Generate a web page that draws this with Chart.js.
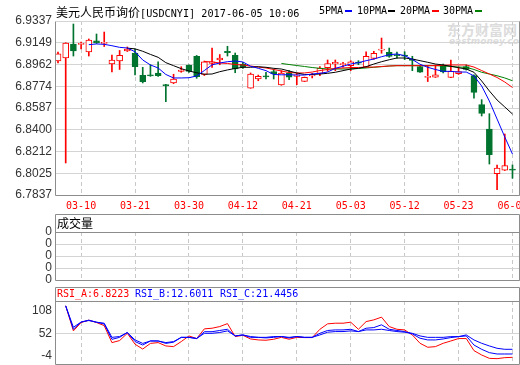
<!DOCTYPE html>
<html>
<head>
<meta charset="utf-8">
<script src="https://cdn.jsdelivr.net/npm/chart.js"></script>
<style>
html, body { margin: 0; padding: 0; background: #fff; }
#wrap { position: relative; width: 520px; height: 365px; overflow: hidden; }
canvas { position: absolute; left: 0; }
.t { position: absolute; white-space: nowrap; line-height: 1; }
.cjk { font-family: "Noto Sans CJK SC", sans-serif; font-size: 12px; color: #000; }
.mono { font-family: "DejaVu Sans Mono", monospace; font-size: 10px; }
.dash { position: absolute; width: 7px; height: 2px; }
</style>
</head>
<body>
<div id="wrap">
  <div class="t" style="left:447px;top:22px;font-family:'Noto Sans CJK SC';font-weight:bold;font-size:14px;color:#dcdcdc;">东方财富网</div>
  <div class="t" style="left:449px;top:37px;font-family:'DejaVu Sans';font-weight:bold;font-style:italic;font-size:9px;color:#dcdcdc;">eastmoney.com</div>

  <canvas id="main" width="540" height="215" style="top:0"></canvas>
  <canvas id="vol" width="540" height="82" style="top:210px"></canvas>
  <canvas id="rsi" width="540" height="96" style="top:284px"></canvas>

  <div class="t" style="left:56px;top:4px;"><span class="cjk">美元人民币询价</span><span class="mono" style="font-size:10.2px">[USDCNYI] 2017-06-05 10:06</span></div>
  <div class="t mono" style="left:319px;top:6px;">5PMA</div><div class="dash" style="left:345px;top:10px;background:#0000ff"></div>
  <div class="t mono" style="left:357px;top:6px;">10PMA</div><div class="dash" style="left:388px;top:10px;background:#000"></div>
  <div class="t mono" style="left:400px;top:6px;">20PMA</div><div class="dash" style="left:432px;top:10px;background:#ff0000"></div>
  <div class="t mono" style="left:443px;top:6px;">30PMA</div><div class="dash" style="left:475px;top:10px;background:#008000"></div>

  <div class="t cjk" style="left:57px;top:217px;">成交量</div>

  <div class="t mono" style="left:57px;top:289px;color:#ff0000">RSI_A:6.8223</div>
  <div class="t mono" style="left:135px;top:289px;color:#0000ff">RSI_B:12.6011</div>
  <div class="t mono" style="left:220px;top:289px;color:#0000ff">RSI_C:21.4456</div>
</div>

<script>
const dates = ['03-07','03-08','03-09','03-10','03-13','03-14','03-15','03-16','03-17','03-20',
  '03-21','03-22','03-23','03-24','03-27','03-28','03-29','03-30','03-31','04-05',
  '04-06','04-07','04-10','04-11','04-12','04-13','04-14','04-17','04-18','04-19',
  '04-20','04-21','04-24','04-25','04-26','04-27','04-28','05-02','05-03','05-04',
  '05-05','05-08','05-09','05-10','05-11','05-12','05-15','05-16','05-17','05-18',
  '05-19','05-22','05-23','05-24','05-25','05-26','05-31','06-01','06-02','06-05'];
const tickIdx = [3, 10, 17, 24, 31, 38, 45, 52, 59];

const open = [6.8992, 6.9018, 6.9139, 6.9135, 6.9070, 6.9165, 6.9143, 6.8966, 6.8992, 6.9078,
  6.9061, 6.8869, 6.8873, 6.8889, 6.8788, 6.8803, 6.8903, 6.8958, 6.9033, 6.8876,
  6.8971, 6.9001, 6.9075, 6.9041, 6.8966, 6.8759, 6.8837, 6.8864, 6.8900, 6.8785,
  6.8891, 6.8860, 6.8817, 6.8864, 6.8886, 6.8934, 6.8968, 6.8960, 6.8952, 6.8983,
  6.8938, 6.9015, 6.9085, 6.9066, 6.9048, 6.9043, 6.9008, 6.8945, 6.8850, 6.8852,
  6.8958, 6.8850, 6.8883, 6.8945, 6.8866, 6.8616, 6.8406, 6.8021, 6.8050, 6.8061];
const high = [6.9070, 6.9150, 6.9311, 6.9155, 6.9182, 6.9225, 6.9242, 6.9044, 6.9083, 6.9113,
  6.9096, 6.8938, 6.8960, 6.8986, 6.8791, 6.8878, 6.8943, 6.8960, 6.9040, 6.8992,
  6.9104, 6.9048, 6.9119, 6.9061, 6.8981, 6.8889, 6.8871, 6.8895, 6.8923, 6.8909,
  6.8909, 6.8886, 6.8854, 6.8886, 6.8943, 6.9001, 6.9001, 6.8981, 6.8995, 6.8995,
  6.9072, 6.9076, 6.9190, 6.9104, 6.9070, 6.9072, 6.9033, 6.8948, 6.8949, 6.8958,
  6.8966, 6.9001, 6.8941, 6.8958, 6.8874, 6.8659, 6.8538, 6.8096, 6.8363, 6.8096];
const low = [6.8975, 6.8113, 6.9035, 6.9096, 6.9035, 6.9143, 6.9117, 6.8897, 6.8919, 6.9074,
  6.8872, 6.8803, 6.8860, 6.8860, 6.8641, 6.8797, 6.8895, 6.8893, 6.8843, 6.8867,
  6.8936, 6.8960, 6.9035, 6.8891, 6.8929, 6.8757, 6.8822, 6.8837, 6.8837, 6.8783,
  6.8831, 6.8788, 6.8815, 6.8846, 6.8866, 6.8903, 6.8909, 6.8938, 6.8909, 6.8960,
  6.8936, 6.9007, 6.9059, 6.9024, 6.9016, 6.9004, 6.8909, 6.8893, 6.8815, 6.8850,
  6.8889, 6.8848, 6.8876, 6.8914, 6.8671, 6.8518, 6.8104, 6.7883, 6.8048, 6.7981];
const close = [6.9053, 6.9147, 6.9078, 6.9145, 6.9173, 6.9147, 6.9153, 6.9001, 6.9040, 6.9096,
  6.8943, 6.8814, 6.8863, 6.8866, 6.8778, 6.8837, 6.8913, 6.8902, 6.8857, 6.8984,
  6.8986, 6.9018, 6.9065, 6.8923, 6.8938, 6.8880, 6.8860, 6.8854, 6.8880, 6.8889,
  6.8852, 6.8872, 6.8852, 6.8874, 6.8932, 6.8969, 6.8980, 6.8971, 6.8986, 6.8973,
  6.9033, 6.9059, 6.9095, 6.9031, 6.9038, 6.9033, 6.8998, 6.8895, 6.8860, 6.8873,
  6.8897, 6.8903, 6.8902, 6.8919, 6.8722, 6.8540, 6.8184, 6.8070, 6.8090, 6.8051];

// moving averages
const ma5 = [null, null, null, null, 6.9133, 6.9139, 6.9136, 6.9124, 6.9110, 6.9104,
  6.9072, 6.9001, 6.8958, 6.8932, 6.8876, 6.8846, 6.8846, 6.8848, 6.8863, 6.8910,
  6.8959, 6.8975, 6.8986, 6.8992, 6.8984, 6.8947, 6.8929, 6.8909, 6.8876, 6.8873,
  6.8874, 6.8871, 6.8871, 6.8880, 6.8886, 6.8897, 6.8929, 6.8947, 6.8966, 6.8978,
  6.8995, 6.9009, 6.9029, 6.9046, 6.9053, 6.9038, 6.9005, 6.8964, 6.8938, 6.8919,
  6.8903, 6.8903, 6.8897, 6.8897, 6.8864, 6.8777, 6.8647, 6.8492, 6.8337, 6.8190];
const ma10 = [null, null, null, null, null, null, null, null, null, 6.9103,
  6.9097, 6.9076, 6.9049, 6.9024, 6.8978, 6.8952, 6.8926, 6.8906, 6.8891, 6.8878,
  6.8880, 6.8900, 6.8915, 6.8928, 6.8938, 6.8938, 6.8943, 6.8938, 6.8929, 6.8923,
  6.8906, 6.8889, 6.8876, 6.8876, 6.8880, 6.8886, 6.8895, 6.8909, 6.8923, 6.8929,
  6.8943, 6.8966, 6.8986, 6.9003, 6.9018, 6.9018, 6.9009, 6.8995, 6.8981, 6.8966,
  6.8958, 6.8947, 6.8934, 6.8923, 6.8895, 6.8820, 6.8734, 6.8656, 6.8596, 6.8535];
const ma20 = [null, null, null, null, null, null, null, null, null, null,
  null, null, null, null, null, null, null, null, null, 6.8988,
  6.8984, 6.8975, 6.8971, 6.8962, 6.8958, 6.8949, 6.8940, 6.8932, 6.8919, 6.8906,
  6.8893, 6.8889, 6.8889, 6.8897, 6.8910, 6.8919, 6.8928, 6.8932, 6.8936, 6.8936,
  6.8940, 6.8940, 6.8945, 6.8949, 6.8952, 6.8952, 6.8952, 6.8952, 6.8952, 6.8953,
  6.8955, 6.8958, 6.8958, 6.8958, 6.8940, 6.8910, 6.8880, 6.8850, 6.8811, 6.8764];
const ma30 = [null, null, null, null, null, null, null, null, null, null,
  null, null, null, null, null, null, null, null, null, null,
  null, null, null, null, null, null, null, null, null, 6.8971,
  6.8962, 6.8953, 6.8945, 6.8936, 6.8929, 6.8923, 6.8923, 6.8923, 6.8923, 6.8928,
  6.8932, 6.8938, 6.8943, 6.8949, 6.8952, 6.8952, 6.8952, 6.8952, 6.8952, 6.8952,
  6.8949, 6.8945, 6.8940, 6.8938, 6.8919, 6.8895, 6.8880, 6.8865, 6.8846, 6.8822];

const rsiA = [null, 120, 58, 78.7, 84.5, 78.7, 71, 29, 34, 52,
  25, 13, 27, 29, 20.7, 19, 31.5, 45.5, 39, 63,
  64.6, 68.7, 76, 44, 47, 38, 35.6, 34.8, 37.3, 42,
  37.3, 42, 41.4, 41.4, 62, 75.4, 77, 77, 79.5, 62,
  81, 85.3, 92, 68.7, 62, 60.4, 48, 27.3, 17.4, 19,
  27.3, 33, 39, 39, 9.1, -1.7, -10, -10.8, -8.3, -7.5];
const rsiB = [null, 120, 62, 80, 84.5, 79.5, 75, 37, 42, 54,
  31.5, 23, 33, 33, 27, 30, 42, 42, 39, 56,
  56, 59, 62, 45.5, 48, 42, 42, 40.6, 42, 44,
  40.6, 44, 42, 42, 52, 59, 60.4, 60.4, 62, 56.3,
  64.6, 66.2, 73, 62, 59, 56.3, 50.5, 39.8, 35.6, 35.6,
  38, 41.4, 43.8, 45.5, 23, 12.4, 4.1, 0.8, 0.8, 0.8];
const rsiC = [null, 120, 67, 80, 83.6, 79.5, 77, 42, 44, 54,
  35.6, 27, 33, 33, 29, 31.5, 42, 42, 39, 52,
  52, 54, 58, 45.5, 48, 44, 42, 42, 44, 44,
  42, 44, 42, 42, 48, 54.7, 56.3, 56.3, 58, 56.3,
  60.4, 60.4, 62, 59, 56.3, 54.7, 52, 45.5, 42, 42,
  42, 43.8, 43.8, 48, 35.6, 27.3, 20.7, 14.9, 12.4, 12.4];

const priceTicks = [6.7837, 6.8025, 6.8212, 6.8400, 6.8587, 6.8774, 6.8962, 6.9149, 6.9337];
const volTicks = [0, 1, 2, 3, 4];
const volLabels = ['0', '0', '0', '0', '0'];
const rsiTicks = [-4, 52, 108];

const RED = '#ff0000', GREEN = '#00732e', BORDER = '#8c8c8c';
const idx = dates.map((d, i) => i);
const up = idx.map(i => close[i] >= open[i]);

// panel frames: left/right/bottom, plus header box for the lower panels
const framePlugin = {
  id: 'frame',
  afterDraw(chart, args, opts) {
    const { ctx, chartArea: a } = chart;
    const L = Math.round(a.left) - 0.5, R = Math.round(a.right) - 0.5;
    const T = Math.round(a.top) + 0.5, B = Math.round(a.bottom) + 0.5;
    ctx.save();
    ctx.strokeStyle = BORDER;
    ctx.lineWidth = 1;
    ctx.beginPath();
    const top = opts.header ? T - opts.header : T;
    ctx.moveTo(L, top); ctx.lineTo(L, B); ctx.lineTo(R, B); ctx.lineTo(R, top);
    if (opts.header) {
      ctx.lineTo(L, top);
      ctx.moveTo(L, T); ctx.lineTo(R, T);
    }
    ctx.stroke();
    ctx.restore();
  }
};

function xAxis(showLabels) {
  return {
    type: 'linear',
    min: -0.2596,
    max: 59.976,
    offset: false,
    afterBuildTicks: s => { s.ticks = tickIdx.map(v => ({ value: v })); },
    afterFit: s => { s.height = showLabels ? 20 : 0; },
    grid: { offset: false, color: '#c8c8c8', drawTicks: false },
    border: { display: false, dash: [4, 3] },
    ticks: {
      display: showLabels, autoSkip: false, maxRotation: 0, padding: 5,
      color: RED, font: { family: 'DejaVu Sans Mono', size: 10 },
      callback: v => dates[v]
    }
  };
}

function yAxis(min, max, ticks, fmt, gridColor) {
  return {
    min: min, max: max, beginAtZero: false,
    afterBuildTicks: s => { s.ticks = ticks.map(v => ({ value: v })); },
    afterFit: s => { s.width = 56; },
    grid: { color: gridColor, drawTicks: false },
    border: { display: false },
    ticks: { autoSkip: false, padding: 4, color: '#333', font: { family: 'Liberation Sans', size: 12 }, callback: fmt }
  };
}

const common = {
  responsive: false,
  animation: false,
  events: []
};

function maLine(arr, color) {
  return {
    type: 'line',
    data: idx.map(i => ({ x: i, y: arr[i] })),
    borderColor: color, borderWidth: 1, pointRadius: 0,
    fill: false, tension: 0, spanGaps: false, order: 1
  };
}

new Chart(document.getElementById('main'), {
  type: 'bar',
  data: {
    datasets: [
      {
        data: idx.map(i => ({ x: i, y: [low[i], high[i]] })),
        backgroundColor: idx.map(i => up[i] ? RED : GREEN),
        barThickness: 1, grouped: false, order: 3
      },
      {
        data: idx.map(i => ({ x: i, y: [open[i], close[i]] })),
        backgroundColor: idx.map(i => up[i] ? '#ffffff' : GREEN),
        borderColor: idx.map(i => up[i] ? RED : GREEN),
        borderWidth: 1, borderSkipped: false,
        barThickness: 6, grouped: false, order: 2
      },
      maLine(ma5, '#0000ff'),
      maLine(ma10, '#000000'),
      maLine(ma20, '#ff0000'),
      maLine(ma30, '#008000')
    ]
  },
  options: Object.assign({}, common, {
    layout: { padding: { left: 0, right: 20, top: 21, bottom: 0 } },
    plugins: { legend: { display: false }, tooltip: { enabled: false }, frame: { header: 0 } },
    scales: {
      x: xAxis(true),
      y: yAxis(6.7837, 6.9337, priceTicks, v => v.toFixed(4), '#d4d4d4')
    }
  }),
  plugins: [framePlugin]
});

new Chart(document.getElementById('vol'), {
  type: 'line',
  data: { datasets: [] },
  options: Object.assign({}, common, {
    layout: { padding: { left: 0, right: 20, top: 22, bottom: 12 } },
    plugins: { legend: { display: false }, tooltip: { enabled: false }, frame: { header: 18 } },
    scales: {
      x: xAxis(false),
      y: yAxis(0, 4, volTicks, (v, i) => volLabels[i], '#d4d4d4')
    }
  }),
  plugins: [framePlugin]
});

new Chart(document.getElementById('rsi'), {
  type: 'line',
  data: {
    datasets: [
      { data: idx.map(i => ({ x: i, y: rsiA[i] })), borderColor: RED, borderWidth: 1, pointRadius: 0, tension: 0, order: 3 },
      { data: idx.map(i => ({ x: i, y: rsiB[i] })), borderColor: '#0000ff', borderWidth: 1, pointRadius: 0, tension: 0, order: 2 },
      { data: idx.map(i => ({ x: i, y: rsiC[i] })), borderColor: '#0000ff', borderWidth: 1, pointRadius: 0, tension: 0, order: 1 }
    ]
  },
  options: Object.assign({}, common, {
    layout: { padding: { left: 0, right: 20, top: 17, bottom: 16 } },
    plugins: { legend: { display: false }, tooltip: { enabled: false }, frame: { header: 14 } },
    scales: {
      x: xAxis(false),
      y: yAxis(-24, 132, rsiTicks, v => String(v),
        ctx => (ctx.tick && ctx.tick.value === 52) ? '#d4d4d4' : 'rgba(0,0,0,0)')
    }
  }),
  plugins: [framePlugin]
});
</script>
</body>
</html>
